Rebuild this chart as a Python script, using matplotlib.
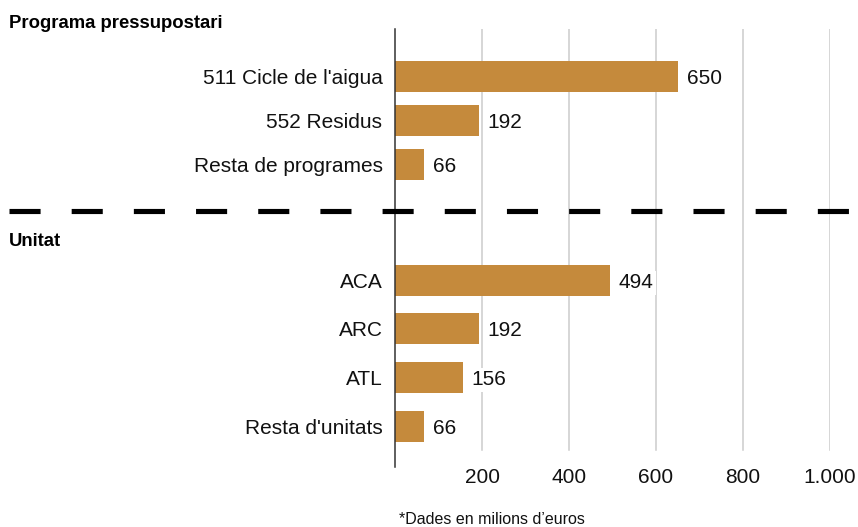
import matplotlib
matplotlib.use('Agg')
import matplotlib.pyplot as plt
from matplotlib.lines import Line2D

plt.rcParams['font.family'] = ['Liberation Sans', 'DejaVu Sans']

# Data
programes = ["511 Cicle de l'aigua", "552 Residus", "Resta de programes"]
programes_valors = [650, 192, 66]
unitats = ["ACA", "ARC", "ATL", "Resta d'unitats"]
unitats_valors = [494, 192, 156, 66]
xticks = [200, 400, 600, 800, 1000]
xtick_labels = ["200", "400", "600", "800", "1.000"]

BAR_COLOR = '#C58A3C'
W, H = 858, 527

fig = plt.figure(figsize=(W / 100, H / 100), dpi=100, facecolor='white')

# axes spans pixels x 395..830, y 29..467 (from top)
ax = fig.add_axes([395 / W, 1 - 467 / H, (830 - 395) / W, (467 - 29) / H])
ax.set_xlim(0, 1000)
ax.set_ylim(467, 29)

# row centres (pixel rows, layout only)
pos_prog = [76.5, 120.5, 164.5]
pos_unit = [281, 329, 378, 426.5]

labels = programes + unitats
values = programes_valors + unitats_valors
positions = pos_prog + pos_unit

# gridlines stop a bit above the axis line bottom
for xt in xticks:
    ax.axvline(xt, ymin=(467 - 450) / (467 - 29), ymax=1, color='#cccccc', lw=1.1, zorder=0)

ax.barh(positions, values, height=31, color=BAR_COLOR, zorder=2)

for p, v in zip(positions, values):
    ax.annotate(str(v), xy=(v, p), xytext=(9, -2), textcoords='offset pixels',
                ha='left', va='center', fontsize=15, color='#111111', zorder=3,
                bbox=dict(facecolor='white', edgecolor='none', pad=2))

ax.set_yticks(positions)
ax.set_yticklabels(labels, fontsize=15, color='#111111')
ax.set_xticks(xticks)
ax.set_xticklabels(xtick_labels, fontsize=15, color='#111111')
ax.tick_params(axis='y', length=0, pad=9)
ax.tick_params(axis='x', length=0, pad=1)

for s in ['top', 'right', 'bottom']:
    ax.spines[s].set_visible(False)
ax.spines['left'].set_color('#333333')
ax.spines['left'].set_linewidth(1.1)
ax.spines['left'].set_zorder(4)

# Separator between the two groups
fig.add_artist(Line2D([9 / W, 849 / W], [1 - 211 / H, 1 - 211 / H], color='black',
                      lw=3.7, dashes=(6.05, 6.05), solid_capstyle='butt', zorder=5))

# Section headers
fig.text(9 / W, 1 - 23 / H, 'Programa pressupostari', fontsize=13.3, fontweight='bold', va='center', ha='left')
fig.text(9 / W, 1 - 242 / H, 'Unitat', fontsize=13.3, fontweight='bold', va='center', ha='left')

# Footnote
fig.text(492 / W, 1 - 519 / H, '*Dades en milions d\u2019euros', fontsize=11.5, ha='center', va='center', color='#111111')

fig.savefig('out.png', dpi=100, facecolor='white')
